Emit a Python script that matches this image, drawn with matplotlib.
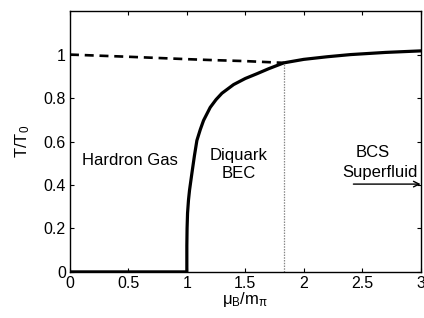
import matplotlib
matplotlib.use('Agg')
import matplotlib.pyplot as plt

plt.rcParams['font.family'] = ['Liberation Sans', 'DejaVu Sans']
plt.rcParams['mathtext.fontset'] = 'custom'
plt.rcParams['mathtext.rm'] = 'Liberation Sans'
plt.rcParams['mathtext.it'] = 'Liberation Sans'

# solid phase boundary (hadron gas -> diquark BEC / BCS)
mu_solid = [0.0, 1.0, 1.0, 1.002, 1.006, 1.014, 1.023, 1.043, 1.065, 1.086, 1.115, 1.143,
            1.2, 1.25, 1.3, 1.4, 1.5, 1.6, 1.7, 1.83, 2.0, 2.2, 2.4, 2.7, 3.0]
T_solid = [0.0, 0.0, 0.12, 0.20, 0.27, 0.33, 0.376, 0.453, 0.535, 0.605, 0.655, 0.697,
           0.757, 0.793, 0.822, 0.862, 0.89, 0.912, 0.935, 0.962, 0.978, 0.99, 1.0, 1.01, 1.017]

# dashed line
mu_dash = [0.0, 0.5, 1.0, 1.2, 1.5, 1.83]
T_dash = [1.0, 0.99, 0.979, 0.975, 0.97, 0.962]

mu_cross = 1.83
T_cross = 0.962

xticks = [0, 0.5, 1, 1.5, 2, 2.5, 3]
xticklabels = ['0', '0.5', '1', '1.5', '2', '2.5', '3']
yticks = [0, 0.2, 0.4, 0.6, 0.8, 1.0]
yticklabels = ['0', '0.2', '0.4', '0.6', '0.8', '1']

fig = plt.figure(figsize=(4.24, 3.18), dpi=100)
ax = fig.add_axes([0.165, 0.145, 0.827, 0.82])

ax.plot(mu_solid, T_solid, color='black', lw=2.3, solid_joinstyle='round')
ax.plot(mu_dash, T_dash, color='black', lw=1.9, dashes=(3.4, 2.2))
ax.plot([mu_cross, mu_cross], [0, T_cross], color='#888888', lw=0.9, ls=(0, (1.2, 1)))

ax.text(0.515, 0.514, 'Hardron Gas', ha='center', va='center', fontsize=12)
ax.text(1.444, 0.495, 'Diquark\nBEC', ha='center', va='center', fontsize=12,
        linespacing=1.2)
ax.text(2.588, 0.55, 'BCS', ha='center', va='center', fontsize=12)
ax.text(2.652, 0.459, 'Superfluid', ha='center', va='center', fontsize=12)
ax.annotate('', xy=(3.0, 0.404), xytext=(2.425, 0.404),
            arrowprops=dict(arrowstyle='->', color='black', lw=1.0,
                            shrinkA=0, shrinkB=0))

ax.set_xlim(0, 3)
ax.set_ylim(0, 1.2)
ax.set_xticks(xticks)
ax.set_xticklabels(xticklabels)
ax.set_yticks(yticks)
ax.set_yticklabels(yticklabels)
ax.tick_params(direction='in', top=True, right=True, labelsize=11.5, length=3, pad=3)
for s in ax.spines.values():
    s.set_linewidth(1.0)

ax.set_xlabel(r'$\mu_B/m_\pi$', fontsize=12, labelpad=-1)
ax.set_ylabel(r'T/T$_0$', fontsize=12, labelpad=8)

fig.savefig('out.png', dpi=100)
